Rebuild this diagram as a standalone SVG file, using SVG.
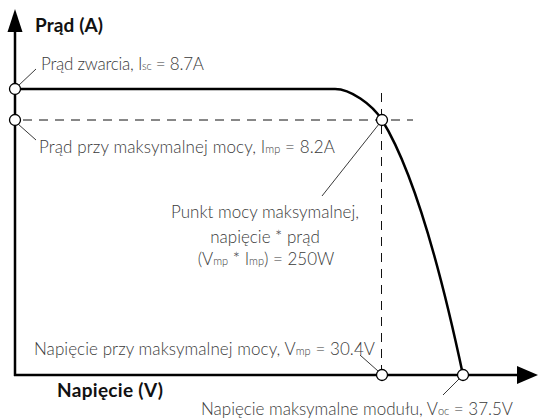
<svg xmlns="http://www.w3.org/2000/svg" width="539" height="418" viewBox="0 0 539 418">
<style>
.lbl{font-family:Lato,"Open Sans","Liberation Sans",sans-serif;font-weight:300;font-size:17px;fill:#3a3a3a}
.sub{font-size:11px}
.ttl{font-family:Lato,"Open Sans","Liberation Sans",sans-serif;font-weight:700;font-size:19px;fill:#111}
.ax{stroke:#000;stroke-width:2.5;fill:none}
.dash{stroke:#111;stroke-width:1;stroke-dasharray:9,7;fill:none}
.lead{stroke:#222;stroke-width:0.9;fill:none}
.pt{fill:#fff;stroke:#000;stroke-width:1.3}
</style>
<rect width="539" height="418" fill="#fff"/>
<g id="connectors">
<line class="ax" x1="15" y1="376" x2="15" y2="28"/>
<polygon points="15,9 7.5,32 22.5,32" fill="#000"/>
<line class="ax" x1="14" y1="375" x2="520" y2="375"/>
<polygon points="538,375 517,366 517,384" fill="#000"/>
<line class="dash" x1="23" y1="120" x2="413" y2="120"/>
<line class="dash" x1="381.5" y1="93" x2="381.5" y2="369"/>
<path class="ax" d="M15,89 H335 C350,89 372,104 382,120 C418,178 445,290 463,375"/>
<line class="lead" x1="18" y1="86" x2="36" y2="69"/>
<line class="lead" x1="18" y1="124" x2="36" y2="140"/>
<line class="lead" x1="379" y1="124" x2="322" y2="196"/>
<line class="lead" x1="360" y1="355" x2="378" y2="371"/>
<line class="lead" x1="459" y1="379" x2="443" y2="395"/>
</g>
<g id="axis-y"><text class="ttl" x="35" y="32" textLength="68">Prąd (A)</text></g>
<g id="axis-x"><text class="ttl" x="57" y="397" textLength="106">Napięcie (V)</text></g>
<g id="isc"><circle class="pt" cx="15" cy="89" r="5.5"/>
<text class="lbl" x="41" y="70" textLength="163">Prąd zwarcia, I<tspan class="sub">sc</tspan> = 8.7A</text></g>
<g id="imp"><circle class="pt" cx="15" cy="120" r="5.5"/>
<text class="lbl" x="39" y="153" textLength="296">Prąd przy maksymalnej mocy, I<tspan class="sub">mp</tspan> = 8.2A</text></g>
<g id="mpp"><circle class="pt" cx="382" cy="120" r="5.5"/>
<text class="lbl" text-anchor="middle"><tspan x="265" y="218">Punkt mocy maksymalnej,</tspan><tspan x="265" y="243">napięcie * prąd</tspan><tspan x="266" y="265">(V<tspan class="sub">mp</tspan> * I<tspan class="sub">mp</tspan>) = 250W</tspan></text></g>
<g id="vmp"><circle class="pt" cx="382" cy="375" r="5.5"/>
<text class="lbl" x="34" y="355" textLength="341">Napięcie przy maksymalnej mocy, V<tspan class="sub">mp</tspan> = 30.4V</text></g>
<g id="voc"><circle class="pt" cx="463" cy="375" r="5.5"/>
<text class="lbl" x="201" y="415" textLength="312">Napięcie maksymalne modułu, V<tspan class="sub">oc</tspan> = 37.5V</text></g>
</svg>
